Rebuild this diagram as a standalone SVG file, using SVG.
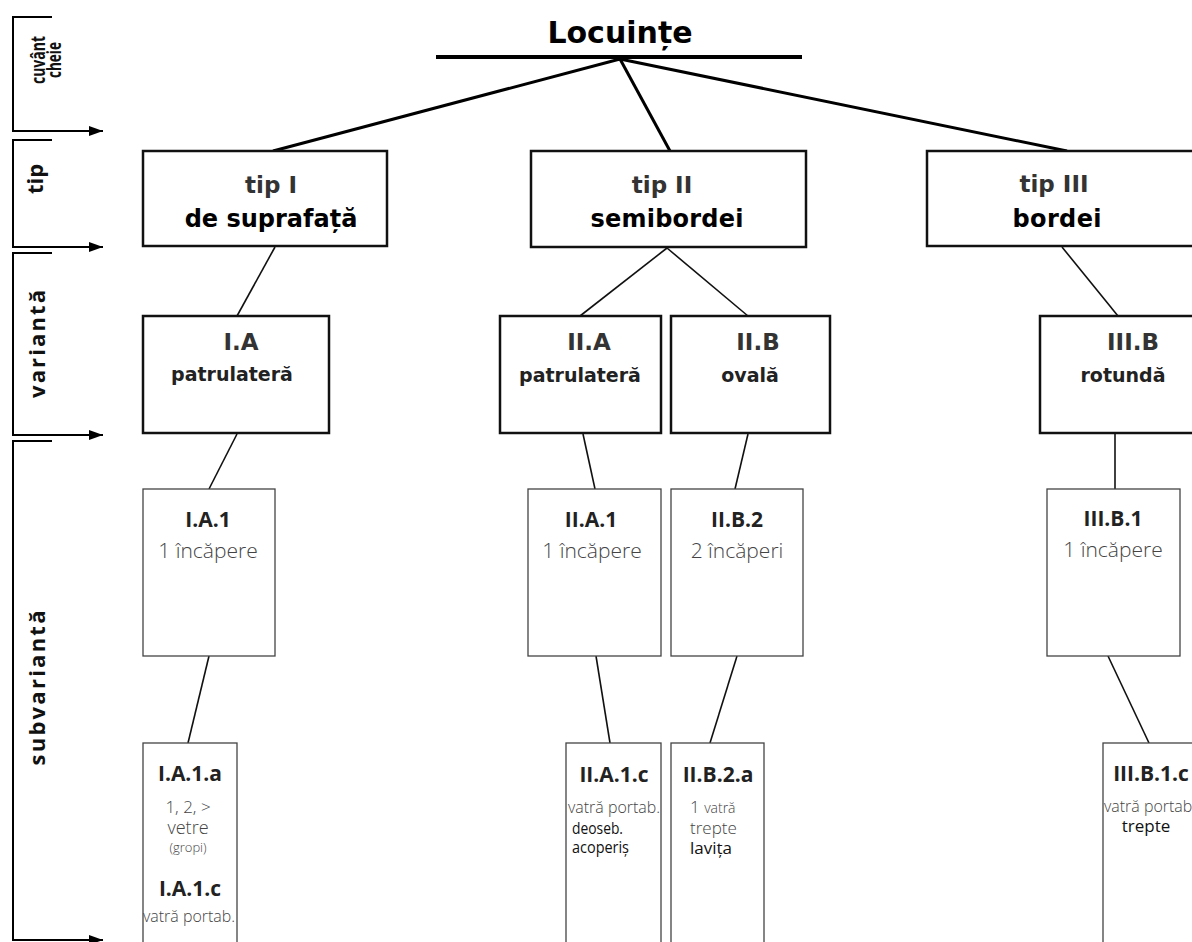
<svg xmlns="http://www.w3.org/2000/svg" width="1192" height="942" viewBox="0 0 1192 942">
<style>
.bg{fill:#fff}
.side{fill:none;stroke:#000;stroke-width:2}
.tipbox{fill:#fff;stroke:#111;stroke-width:2.5}
.varbox{fill:#fff;stroke:#111;stroke-width:2.5}
.subbox{fill:#fff;stroke:#444;stroke-width:1.3}
.c3{stroke:#000;stroke-width:3;fill:none}
.c2{stroke:#111;stroke-width:1.6;fill:none}
.sidetxt{font-family:"Open Sans","DejaVu Sans",sans-serif;font-weight:700;fill:#111}
.title{font-family:"DejaVu Sans",sans-serif;font-weight:700;font-size:30px;fill:#000;text-anchor:middle}
.tip1{font-family:"DejaVu Sans",sans-serif;font-weight:700;font-size:23px;fill:#333;text-anchor:middle}
.tip2{font-family:"DejaVu Sans",sans-serif;font-weight:700;font-size:24px;fill:#000;text-anchor:middle}
.var1{font-family:"DejaVu Sans",sans-serif;font-weight:700;font-size:23px;fill:#333;text-anchor:middle}
.var2{font-family:"DejaVu Sans",sans-serif;font-weight:700;font-size:19px;fill:#222;text-anchor:middle}
.sh{font-family:"Open Sans",sans-serif;font-weight:700;font-size:21px;fill:#222;text-anchor:middle}
.sl{font-family:"Open Sans",sans-serif;font-weight:300;font-size:21px;fill:#444;text-anchor:middle}
.lt{font-family:"Open Sans",sans-serif;font-weight:300;fill:#444}
.dk{font-family:"Open Sans",sans-serif;font-weight:400;fill:#111}
</style>
<defs>
<marker id="arr" viewBox="0 0 14 10" refX="14" refY="5" markerWidth="14" markerHeight="10" markerUnits="userSpaceOnUse" orient="auto">
<path d="M0,0 L14,5 L0,10 Z" fill="#000"/>
</marker>
</defs>
<rect class="bg" x="0" y="0" width="1192" height="942"/>

<g id="sidebar">
<path class="side" d="M52,17 H13 V131 H103" marker-end="url(#arr)"/>
<path class="side" d="M52,140 H13 V247 H103" marker-end="url(#arr)"/>
<path class="side" d="M52,253 H13 V435 H103" marker-end="url(#arr)"/>
<path class="side" d="M52,441 H13 V940 H103" marker-end="url(#arr)"/>
<text class="sidetxt" font-size="19" text-anchor="middle" transform="translate(45,60) rotate(-90)" textLength="48" lengthAdjust="spacingAndGlyphs">cuvânt</text>
<text class="sidetxt" font-size="19" text-anchor="middle" transform="translate(61,60) rotate(-90)" textLength="36" lengthAdjust="spacingAndGlyphs">cheie</text>
<text class="sidetxt" font-size="22" text-anchor="middle" transform="translate(43,179) rotate(-90)">tip</text>
<text class="sidetxt" font-size="22" text-anchor="middle" transform="translate(45,344) rotate(-90)" textLength="108" lengthAdjust="spacing">variantă</text>
<text class="sidetxt" font-size="22" text-anchor="middle" transform="translate(45,688) rotate(-90)" textLength="155" lengthAdjust="spacing">subvariantă</text>
</g>

<g id="connectors">
<line x1="436" y1="57" x2="802" y2="57" stroke="#000" stroke-width="4"/>
<path class="c3" d="M620,59 L273,151"/>
<path class="c3" d="M620,59 L670,151"/>
<path class="c3" d="M620,59 L1067,151"/>
<path class="c2" d="M275,247 L237,316"/>
<path class="c2" d="M667,248 L580,316"/>
<path class="c2" d="M667,248 L748,316"/>
<path class="c2" d="M1062,247 L1118,316"/>
<path class="c2" d="M237,434 L209,489"/>
<path class="c2" d="M583,434 L595,489"/>
<path class="c2" d="M748,434 L735,489"/>
<path class="c2" d="M1115,434 L1115,489" stroke-width="2"/>
<path class="c2" d="M209,656 L188,743"/>
<path class="c2" d="M596,656 L610,743"/>
<path class="c2" d="M737,656 L710,743"/>
<path class="c2" d="M1108,656 L1149,743"/>
</g>

<g id="title">
<text class="title" x="620" y="43">Locuințe</text>
</g>

<g id="tip-I">
<rect class="tipbox" x="143" y="151" width="244" height="95"/>
<text class="tip1" x="271" y="193">tip I</text>
<text class="tip2" x="271" y="227">de suprafață</text>
</g>
<g id="tip-II">
<rect class="tipbox" x="531" y="151" width="275" height="96"/>
<text class="tip1" x="662" y="193">tip II</text>
<text class="tip2" x="667" y="227" textLength="153" lengthAdjust="spacing">semibordei</text>
</g>
<g id="tip-III">
<rect class="tipbox" x="927" y="151" width="280" height="95"/>
<text class="tip1" x="1054" y="192">tip III</text>
<text class="tip2" x="1057" y="227" textLength="89" lengthAdjust="spacing">bordei</text>
</g>

<g id="var-IA">
<rect class="varbox" x="143" y="316" width="186" height="117"/>
<text class="var1" x="241" y="350">I.A</text>
<text class="var2" x="232" y="381">patrulateră</text>
</g>
<g id="var-IIA">
<rect class="varbox" x="500" y="316" width="161" height="117"/>
<text class="var1" x="589" y="350">II.A</text>
<text class="var2" x="580" y="382">patrulateră</text>
</g>
<g id="var-IIB">
<rect class="varbox" x="671" y="316" width="159" height="117"/>
<text class="var1" x="758" y="350">II.B</text>
<text class="var2" x="750" y="382">ovală</text>
</g>
<g id="var-IIIB">
<rect class="varbox" x="1040" y="316" width="170" height="117"/>
<text class="var1" x="1133" y="350">III.B</text>
<text class="var2" x="1123" y="382">rotundă</text>
</g>

<g id="sub-IA1">
<rect class="subbox" x="143" y="489" width="132" height="167"/>
<text class="sh" x="208" y="527">I.A.1</text>
<text class="sl" x="208" y="558">1 încăpere</text>
</g>
<g id="sub-IIA1">
<rect class="subbox" x="528" y="489" width="133" height="167"/>
<text class="sh" x="591" y="527">II.A.1</text>
<text class="sl" x="592" y="558">1 încăpere</text>
</g>
<g id="sub-IIB2">
<rect class="subbox" x="671" y="489" width="132" height="167"/>
<text class="sh" x="737" y="527">II.B.2</text>
<text class="sl" x="737" y="558">2 încăperi</text>
</g>
<g id="sub-IIIB1">
<rect class="subbox" x="1047" y="489" width="133" height="167"/>
<text class="sh" x="1113" y="526">III.B.1</text>
<text class="sl" x="1113" y="557">1 încăpere</text>
</g>

<g id="sub-IA1a">
<rect class="subbox" x="143" y="743" width="94" height="210"/>
<text class="sh" x="190" y="781">I.A.1.a</text>
<text class="lt" x="188" y="813" font-size="17" text-anchor="middle">1, 2, &gt;</text>
<text class="lt" x="188" y="834" font-size="18" text-anchor="middle">vetre</text>
<text class="lt" x="188" y="852" font-size="13" text-anchor="middle">(gropi)</text>
<text class="sh" x="190" y="896">I.A.1.c</text>
<text class="lt" x="189" y="922" font-size="16" text-anchor="middle" textLength="92" lengthAdjust="spacingAndGlyphs">vatră portab.</text>
</g>
<g id="sub-IIA1c">
<rect class="subbox" x="566" y="743" width="95" height="210"/>
<text class="sh" x="614" y="782">II.A.1.c</text>
<text class="lt" x="568" y="813" font-size="16" textLength="92" lengthAdjust="spacingAndGlyphs">vatră portab.</text>
<text class="dk" x="572" y="834" font-size="16" textLength="51" lengthAdjust="spacingAndGlyphs">deoseb.</text>
<text class="dk" x="572" y="853" font-size="16" textLength="57" lengthAdjust="spacingAndGlyphs">acoperiș</text>
</g>
<g id="sub-IIB2a">
<rect class="subbox" x="671" y="743" width="93" height="210"/>
<text class="sh" x="718" y="782">II.B.2.a</text>
<text class="lt" x="690" y="813" font-size="17">1 <tspan font-size="14">vatră</tspan></text>
<text class="lt" x="690" y="834" font-size="17">trepte</text>
<text class="dk" x="690" y="854" font-size="17">lavița</text>
</g>
<g id="sub-IIIB1c">
<rect class="subbox" x="1103" y="743" width="110" height="210"/>
<text class="sh" x="1151" y="781">III.B.1.c</text>
<text class="lt" x="1104" y="812" font-size="16" textLength="92" lengthAdjust="spacingAndGlyphs">vatră portab.</text>
<text class="dk" x="1146" y="832" font-size="17" text-anchor="middle">trepte</text>
</g>
</svg>
